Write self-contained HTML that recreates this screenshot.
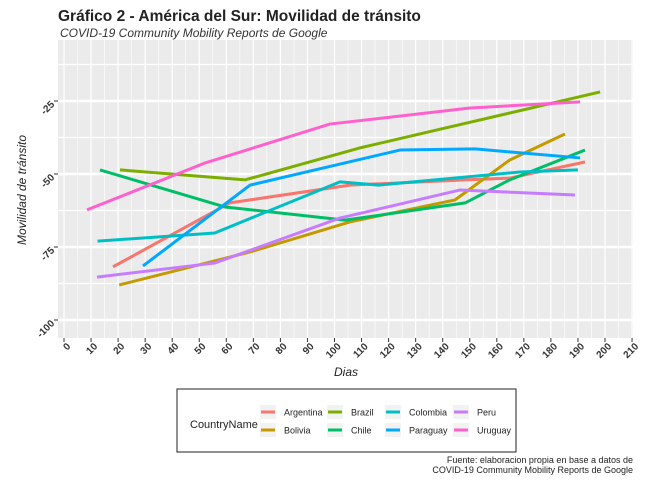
<!DOCTYPE html>
<html><head><meta charset="utf-8"><style>
body{margin:0;background:#fff;width:650px;height:485px;overflow:hidden;font-family:"Liberation Sans",sans-serif}
</style></head><body>
<svg id="c" width="650" height="485" xmlns="http://www.w3.org/2000/svg" font-family="Liberation Sans, sans-serif">
<text x="58" y="21" font-size="15.5" font-weight="bold" fill="#222">Gráfico 2 - América del Sur: Movilidad de tránsito</text>
<text x="60" y="37" font-size="12" font-style="italic" fill="#333">COVID-19 Community Mobility Reports de Google</text>
<rect x="58" y="40" width="575" height="298" fill="#ebebeb"/>
<g id="grid"></g><g id="lines"></g><g id="axes"></g>
<text x="346" y="376" font-size="12" font-style="italic" text-anchor="middle" fill="#222">Dias</text>
<text transform="translate(26,190) rotate(-90)" font-size="12" font-style="italic" text-anchor="middle" fill="#222">Movilidad de tránsito</text>
<g>
<rect x="177" y="389" width="339" height="63" fill="#fff" stroke="#222" stroke-width="1"/>
<text x="190" y="428" font-size="11" fill="#222">CountryName</text>
<g id="leg"></g>
</g>
<text x="633" y="463" font-size="9" text-anchor="end" fill="#222">Fuente: elaboracion propia en base a datos de</text>
<text x="633" y="473" font-size="9" text-anchor="end" fill="#222">COVID-19 Community Mobility Reports de Google</text>
</svg>
<script>
const countries=["Argentina","Bolivia","Brazil","Chile","Colombia","Paraguay","Peru","Uruguay"];
const colors=["#F8766D","#C49A00","#7CAE00","#00BE67","#00BFC4","#00A9FF","#C77CFF","#FF61CC"];
const argDays=[18.1,61.3,105.7,146.3,164.8,192.6];const argVals=[-81.8,-59.9,-53.8,-52.1,-51.4,-45.9];
const bolDays=[20.4,68.8,105.7,144.5,164.8,185.2];const bolVals=[-88,-76.7,-66.4,-58.9,-45.2,-36.3];
const braDays=[20.7,67,109.2,198.2];const braVals=[-48.6,-52,-41.1,-21.9];
const chiDays=[13.3,59.5,103.9,148.3,164.8,192.6];const chiVals=[-48.6,-61.3,-65.8,-59.9,-52,-41.8];
const colDays=[12.4,55.7,102,116.4,168.6,190];const colVals=[-73,-70.2,-52.7,-53.8,-49.3,-48.6];
const parDays=[29.2,68.8,124.2,151.9,190.8];const parVals=[-81.5,-53.8,-41.8,-41.4,-44.5];
const perDays=[12.2,55.7,102,146.3,188.9];const perVals=[-85.3,-80.5,-65.1,-55.5,-57.2];
const uruDays=[8.5,52.2,98.3,150.1,190.8];const uruVals=[-62.3,-46.2,-32.9,-27.4,-25.3];
const xTicks=[0,10,20,30,40,50,60,70,80,90,100,110,120,130,140,150,160,170,180,190,200,210];
const yTicks=[-25,-50,-75,-100];
const series=[[argDays,argVals],[bolDays,bolVals],[braDays,braVals],[chiDays,chiVals],[colDays,colVals],[parDays,parVals],[perDays,perVals],[uruDays,uruVals]];
const X=d=>64+d*2.705, Y=v=>101+(-25-v)*2.92;
const NS="http://www.w3.org/2000/svg";
function mk(t,a,p){const e=document.createElementNS(NS,t);for(const k in a)e.setAttribute(k,a[k]);p.appendChild(e);return e;}
const g=document.getElementById('grid'),ax=document.getElementById('axes'),ln=document.getElementById('lines'),lg=document.getElementById('leg');
for(let d=-5;d<=215;d+=5){const x=X(d);if(x<58||x>633)continue;const l=mk('line',{x1:x,x2:x,y1:40,y2:338,stroke:'#fff','stroke-width':d%10?0.6:1.2},g);

}
for(let v=-12.5;v>=-100;v-=12.5){const y=Y(v);const l=mk('line',{x1:58,x2:633,y1:y,y2:y,stroke:'#fff','stroke-width':v%25?1.2:2.4},g);

}
xTicks.forEach(t=>{const x=X(t);mk('line',{x1:x,x2:x,y1:338,y2:342,stroke:'#333'},ax);
const tx=mk('text',{transform:`translate(${x+7},${347}) rotate(-45)`,'font-size':10,'font-weight':'bold','text-anchor':'end',fill:'#333'},ax);tx.textContent=t;

});
yTicks.forEach(t=>{const y=Y(t);mk('line',{x1:54,x2:58,y1:y,y2:y,stroke:'#333'},ax);
const tx=mk('text',{transform:`translate(${55},${y+4}) rotate(-45)`,'font-size':10,'font-weight':'bold','text-anchor':'end',fill:'#333'},ax);tx.textContent=t;

});
series.forEach((s,i)=>{const pts=s[0].map((d,j)=>X(d)+','+Y(s[1][j])).join(' ');
const p=mk('polyline',{points:pts,fill:'none',stroke:colors[i],'stroke-width':3,'stroke-linejoin':'round'},ln);

});
const lx=[263,330,388,456];
countries.forEach((c,i)=>{const col=Math.floor(i/2),row=i%2;const x=lx[col],y=412+row*18;
const e=mk('g',{},lg);


mk('rect',{x:x-3,y:y-7,width:16,height:14,fill:'#f2f2f2'},e);
mk('line',{x1:x-2,x2:x+12,y1:y,y2:y,stroke:colors[i],'stroke-width':3},e);
const t=mk('text',{x:x+21,y:y+3.5,'font-size':9,fill:'#222'},e);t.textContent=c;});
</script>
</body></html>
